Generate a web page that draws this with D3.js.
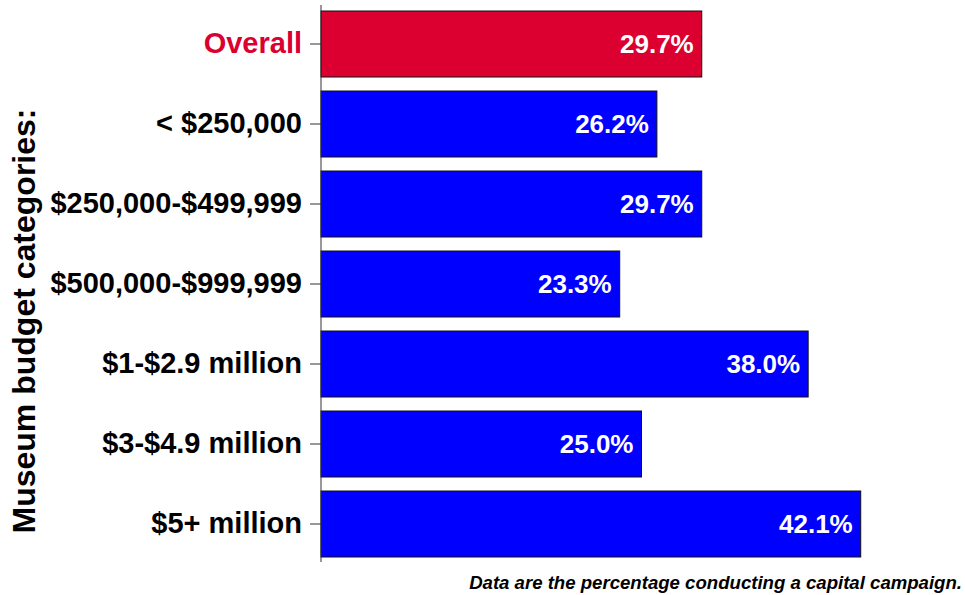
<!DOCTYPE html>
<html>
<head>
<meta charset="utf-8">
<script src="https://cdn.jsdelivr.net/npm/d3@7"></script>
<style>
  body { margin: 0; background: #fff; }
  svg { display: block; font-family: "Liberation Sans", Arial, Helvetica, sans-serif; }
</style>
</head>
<body>
<svg id="chart" width="965" height="595"></svg>
<script>
// data
const categories = ["Overall", "< $250,000", "$250,000-$499,999", "$500,000-$999,999",
                    "$1-$2.9 million", "$3-$4.9 million", "$5+ million"];
const values = [29.7, 26.2, 29.7, 23.3, 38.0, 25.0, 42.1];
const highlight = "Overall";

const svg = d3.select("#chart");

const x = d3.scaleLinear()
    .domain([0, 50])
    .range([321, 962]);

const y = d3.scaleBand()
    .domain(categories)
    .range([4, 564])
    .paddingInner(0.175)
    .paddingOuter(0.0875);

function barColor(c) {
    return c === highlight ? "#db0030" : "#0000ff";
}

// bars
svg.append("g")
    .selectAll("rect")
    .data(categories)
    .join("rect")
    .attr("x", x(0))
    .attr("y", d => y(d))
    .attr("width", (d, i) => x(values[i]) - x(0))
    .attr("height", y.bandwidth())
    .attr("fill", d => barColor(d))
    .attr("stroke", "#111")
    .attr("stroke-width", 1);

// value labels
svg.append("g")
    .selectAll("text")
    .data(categories)
    .join("text")
    .attr("x", (d, i) => x(values[i]) - 8)
    .attr("y", d => y(d) + y.bandwidth() / 2)
    .attr("dy", "0.36em")
    .attr("text-anchor", "end")
    .attr("fill", "#fff")
    .style("font-size", "26px")
    .style("font-weight", "bold")
    .text((d, i) => values[i].toFixed(1) + "%");

// y axis
const yAxis = svg.append("g")
    .attr("transform", `translate(${x(0)},0)`)
    .call(d3.axisLeft(y).tickSize(11).tickPadding(8));

yAxis.select(".domain")
    .attr("d", "M0,5V562")
    .attr("stroke", "#333");
yAxis.selectAll(".tick line").attr("stroke", "#333");
yAxis.selectAll(".tick text")
    .style("font-size", "29px")
    .style("font-weight", "bold")
    .attr("fill", d => d === highlight ? "#db0030" : "#000");

// axis title
svg.append("text")
    .attr("transform", "translate(35,321) rotate(-90)")
    .attr("text-anchor", "middle")
    .style("font-size", "32px")
    .style("font-weight", "bold")
    .text("Museum budget categories:");

// footnote
svg.append("text")
    .attr("x", 962)
    .attr("y", 589)
    .attr("text-anchor", "end")
    .style("font-size", "18.6px")
    .style("font-weight", "bold")
    .style("font-style", "italic")
    .text("Data are the percentage conducting a capital campaign.");
</script>
</body>
</html>
